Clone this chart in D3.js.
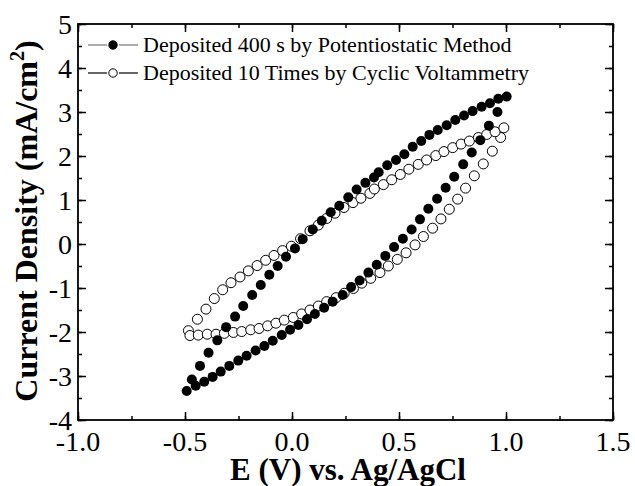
<!DOCTYPE html>
<html><head><meta charset="utf-8">
<script src="https://cdn.jsdelivr.net/npm/d3@7"></script>
<style>body{margin:0;background:#fff}svg{display:block}</style>
</head><body>
<script>
// Filled: deposited 400 s by potentiostatic method
const solidLowerE = [-0.492,-0.45,-0.41,-0.371,-0.333,-0.293,-0.251,-0.212,-0.17,-0.129,-0.09,-0.048,-0.009,0.03,0.07,0.107,0.15,0.19,0.237,0.276,0.316,0.357,0.396,0.436,0.477,0.518,0.559,0.598,0.637,0.678,0.718,0.758,0.80,0.84,0.88,0.92,0.96,1.003];
const solidLowerJ = [-3.34,-3.22,-3.13,-3.02,-2.90,-2.77,-2.65,-2.54,-2.42,-2.32,-2.20,-2.07,-1.95,-1.84,-1.71,-1.59,-1.45,-1.31,-1.16,-0.98,-0.83,-0.65,-0.47,-0.27,-0.07,0.12,0.33,0.56,0.80,1.03,1.28,1.53,1.81,2.08,2.36,2.69,3.0,3.35];
const solidUpperE = [-0.468,-0.43,-0.39,-0.349,-0.308,-0.266,-0.228,-0.186,-0.146,-0.106,-0.067,-0.028,0.014,0.05,0.097,0.139,0.181,0.221,0.263,0.302,0.343,0.383,0.405,0.445,0.486,0.525,0.564,0.604,0.642,0.681,0.723,0.763,0.804,0.844,0.886,0.925,0.964];
const solidUpperJ = [-3.08,-2.77,-2.47,-2.19,-1.89,-1.65,-1.41,-1.16,-0.93,-0.70,-0.50,-0.29,-0.10,0.11,0.33,0.53,0.72,0.87,1.06,1.24,1.39,1.51,1.63,1.79,1.91,2.04,2.21,2.34,2.48,2.59,2.70,2.82,2.92,3.02,3.12,3.20,3.30];
// Open: deposited 10 times by cyclic voltammetry
const openLowerE = [-0.484,-0.477,-0.438,-0.396,-0.355,-0.316,-0.274,-0.235,-0.193,-0.154,-0.114,-0.075,-0.036,0.006,0.045,0.084,0.123,0.162,0.206,0.244,0.287,0.326,0.368,0.411,0.45,0.492,0.533,0.575,0.614,0.657,0.696,0.735,0.774,0.811,0.852,0.894,0.936,0.975];
const openLowerJ = [-1.97,-2.08,-2.07,-2.05,-2.05,-2.03,-2.01,-1.99,-1.95,-1.92,-1.86,-1.80,-1.73,-1.67,-1.59,-1.50,-1.41,-1.31,-1.22,-1.12,-1.01,-0.89,-0.78,-0.65,-0.50,-0.35,-0.20,-0.02,0.17,0.36,0.57,0.79,1.02,1.27,1.55,1.82,2.11,2.42];
const openUpperE = [-0.442,-0.402,-0.363,-0.324,-0.285,-0.243,-0.204,-0.163,-0.123,-0.084,-0.044,-0.003,0.04,0.084,0.123,0.162,0.201,0.243,0.285,0.322,0.364,0.385,0.427,0.466,0.506,0.546,0.59,0.629,0.672,0.71,0.751,0.79,0.829,0.871,0.91,0.949,0.99];
const openUpperJ = [-1.71,-1.48,-1.24,-1.04,-0.88,-0.75,-0.61,-0.49,-0.37,-0.26,-0.15,-0.05,0.12,0.30,0.43,0.58,0.70,0.83,0.94,1.04,1.15,1.25,1.35,1.46,1.58,1.70,1.81,1.91,2.01,2.10,2.19,2.27,2.34,2.42,2.49,2.55,2.64];

const xTicks = [-1.0,-0.5,0.0,0.5,1.0,1.5];
const xTickLabels = ["-1.0","-0.5","0.0","0.5","1.0","1.5"];
const yTicks = [-4,-3,-2,-1,0,1,2,3,4,5];
const yTickLabels = ["-4","-3","-2","-1","0","1","2","3","4","5"];
const seriesNames = ["Deposited 400 s by Potentiostatic Method","Deposited 10 Times by Cyclic Voltammetry"];

const W = 635, H = 486;
const L = 78, R = 613, T = 24, B = 420;
const font = "'Liberation Serif','Times New Roman',serif";

const svg = d3.select("body").append("svg").attr("width", W).attr("height", H);
const x = d3.scaleLinear().domain([-1.0, 1.5]).range([L, R]);
const y = d3.scaleLinear().domain([-4, 5]).range([B, T]);

const zip = (a, b) => a.map((v, i) => [v, b[i]]);
const solid = zip(solidLowerE, solidLowerJ).concat(zip(solidUpperE, solidUpperJ));
const open = zip(openLowerE, openLowerJ).concat(zip(openUpperE, openUpperJ));

const xMinor = d3.range(-1.0, 1.5001, 0.25);
const yMinor = d3.range(-4, 5.001, 0.5);

const gAx = svg.append("g");
function tickAxis(axisGen, transform) {
  const g = gAx.append("g").attr("transform", transform).call(axisGen);
  g.select(".domain").remove();
  g.selectAll("line").attr("stroke", "#000").attr("stroke-width", 1.5);
  g.selectAll("text").remove();
  return g;
}
tickAxis(d3.axisTop(x).tickValues(xTicks).tickSize(8), `translate(0,${B})`);
tickAxis(d3.axisTop(x).tickValues(xMinor).tickSize(4), `translate(0,${B})`);
tickAxis(d3.axisBottom(x).tickValues(xTicks).tickSize(8), `translate(0,${T})`);
tickAxis(d3.axisBottom(x).tickValues(xMinor).tickSize(4), `translate(0,${T})`);
tickAxis(d3.axisRight(y).tickValues(yTicks).tickSize(8), `translate(${L},0)`);
tickAxis(d3.axisRight(y).tickValues(yMinor).tickSize(4), `translate(${L},0)`);
tickAxis(d3.axisLeft(y).tickValues(yTicks).tickSize(8), `translate(${R},0)`);
tickAxis(d3.axisLeft(y).tickValues(yMinor).tickSize(4), `translate(${R},0)`);

svg.append("rect").attr("x", L).attr("y", T).attr("width", R - L).attr("height", B - T)
  .attr("fill", "none").attr("stroke", "#000").attr("stroke-width", 1.8);

// tick labels
svg.append("g").selectAll("text").data(xTicks).join("text")
  .attr("x", d => x(d)).attr("y", 451).attr("text-anchor", "middle")
  .attr("font-family", font).attr("font-size", 28).text((d, i) => xTickLabels[i]);
svg.append("g").selectAll("text").data(yTicks).join("text")
  .attr("x", 72).attr("y", d => y(d)).attr("dy", "0.34em").attr("text-anchor", "end")
  .attr("font-family", font).attr("font-size", 28).text((d, i) => yTickLabels[i]);

// axis titles
svg.append("text").attr("x", 348).attr("y", 480).attr("text-anchor", "middle")
  .attr("font-family", font).attr("font-size", 31).attr("font-weight", "bold")
  .text("E (V) vs. Ag/AgCl");
const yt = svg.append("text").attr("transform", `translate(37,221) rotate(-90)`)
  .attr("text-anchor", "middle").attr("font-family", font).attr("font-size", 32).attr("font-weight", "bold");
yt.append("tspan").text("Current Density (mA/cm");
yt.append("tspan").attr("font-size", 20).attr("dy", -13).text("2");
yt.append("tspan").attr("dy", 13).text(")");

// data
const r = 5;
svg.append("g").selectAll("circle").data(open).join("circle")
  .attr("cx", d => x(d[0])).attr("cy", d => y(d[1])).attr("r", r)
  .attr("fill", "#fff").attr("stroke", "#000").attr("stroke-width", 1);
svg.append("g").selectAll("circle").data(solid).join("circle")
  .attr("cx", d => x(d[0])).attr("cy", d => y(d[1])).attr("r", r)
  .attr("fill", "#000");

// legend
const leg = svg.append("g");
const legY = [45, 73];
seriesNames.forEach((name, i) => {
  const col = i === 0 ? "#777" : "#000";
  leg.append("line").attr("x1", 88).attr("x2", 107).attr("y1", legY[i]).attr("y2", legY[i])
    .attr("stroke", col).attr("stroke-width", 1.2);
  leg.append("line").attr("x1", 119).attr("x2", 138).attr("y1", legY[i]).attr("y2", legY[i])
    .attr("stroke", col).attr("stroke-width", 1.2);
  leg.append("circle").attr("cx", 113).attr("cy", legY[i]).attr("r", 4.2)
    .attr("fill", i === 0 ? "#000" : "#fff").attr("stroke", "#000").attr("stroke-width", 1);
  leg.append("text").attr("x", 143).attr("y", legY[i]).attr("dy", "0.33em")
    .attr("font-family", font).attr("font-size", 22).text(name);
});
</script>
</body></html>
